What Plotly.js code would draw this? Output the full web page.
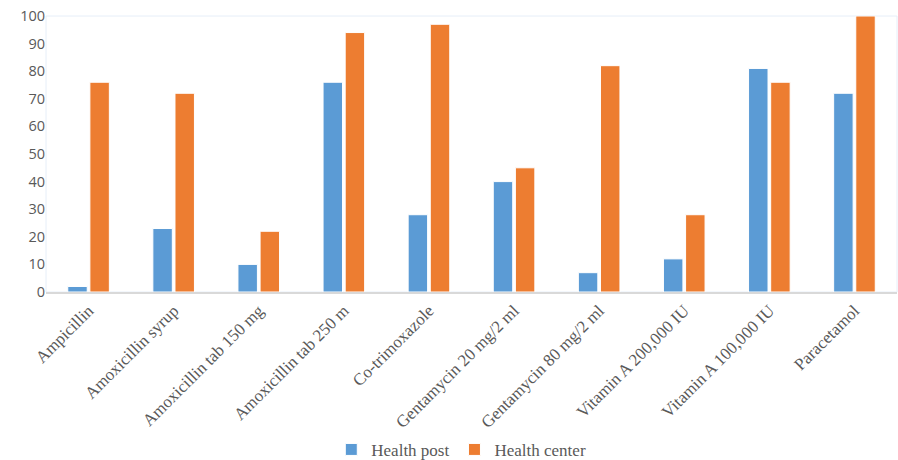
<!DOCTYPE html>
<html>
<head>
<meta charset="utf-8">
<script src="https://cdn.plot.ly/plotly-3.0.1.min.js"></script>
<style>html,body{margin:0;padding:0;background:#fff;}#chart{width:898px;height:460px;}</style>
</head>
<body>
<div id="chart"></div>
<script>
var categories = ["Ampicillin", "Amoxicillin syrup", "Amoxicillin tab 150 mg", "Amoxicillin tab 250 m", "Co-trimoxazole", "Gentamycin 20 mg/2 ml", "Gentamycin 80 mg/2 ml", "Vitamin A 200,000 IU", "Vitamin A 100,000 IU", "Paracetamol"];
var healthPost = [2, 23, 10, 76, 28, 40, 7, 12, 81, 72];
var healthCenter = [76, 72, 22, 94, 97, 45, 82, 28, 76, 100];
var yTicks = [0, 10, 20, 30, 40, 50, 60, 70, 80, 90, 100];

var traces = [
  {type: "bar", name: "Health post", x: categories, y: healthPost,
   marker: {color: "#5B9BD5", line: {color: "#ffffff", width: 1}}},
  {type: "bar", name: "Health center", x: categories, y: healthCenter,
   marker: {color: "#ED7D31", line: {color: "#ffffff", width: 1}}}
];

var layout = {
  width: 898, height: 460,
  margin: {l: 46, r: 1, t: 16, b: 168, autoexpand: false},
  paper_bgcolor: "#ffffff", plot_bgcolor: "#ffffff",
  barmode: "group", bargap: 0.48, bargroupgap: 0.12,
  showlegend: true,
  legend: {orientation: "h", x: 0.488, xanchor: "center", y: -0.572, yanchor: "middle",
           font: {family: "Liberation Serif, Times New Roman, serif", size: 17, color: "#595959"},
           itemwidth: 30, traceorder: "normal"},
  xaxis: {tickangle: -45, showgrid: false, showline: true, linecolor: "#d9d9d9", linewidth: 2,
          automargin: false,
          tickfont: {family: "Liberation Serif, Times New Roman, serif", size: 17, color: "#595959"},
          ticks: "", mirror: false},
  yaxis: {range: [0, 100], tickvals: yTicks, showgrid: false, zeroline: false, showline: false,
          automargin: false,
          tickfont: {family: "Open Sans, Liberation Sans, sans-serif", size: 14.5, color: "#595959"},
          ticks: "", ticklen: 0},
  shapes: [
    {type: "rect", xref: "paper", yref: "paper", x0: 0, x1: 1, y0: 0, y1: 1,
     line: {color: "#e6eef8", width: 1}, layer: "below"}
  ]
};

Plotly.newPlot("chart", traces, layout, {displayModeBar: false, staticPlot: true});
</script>
</body>
</html>
